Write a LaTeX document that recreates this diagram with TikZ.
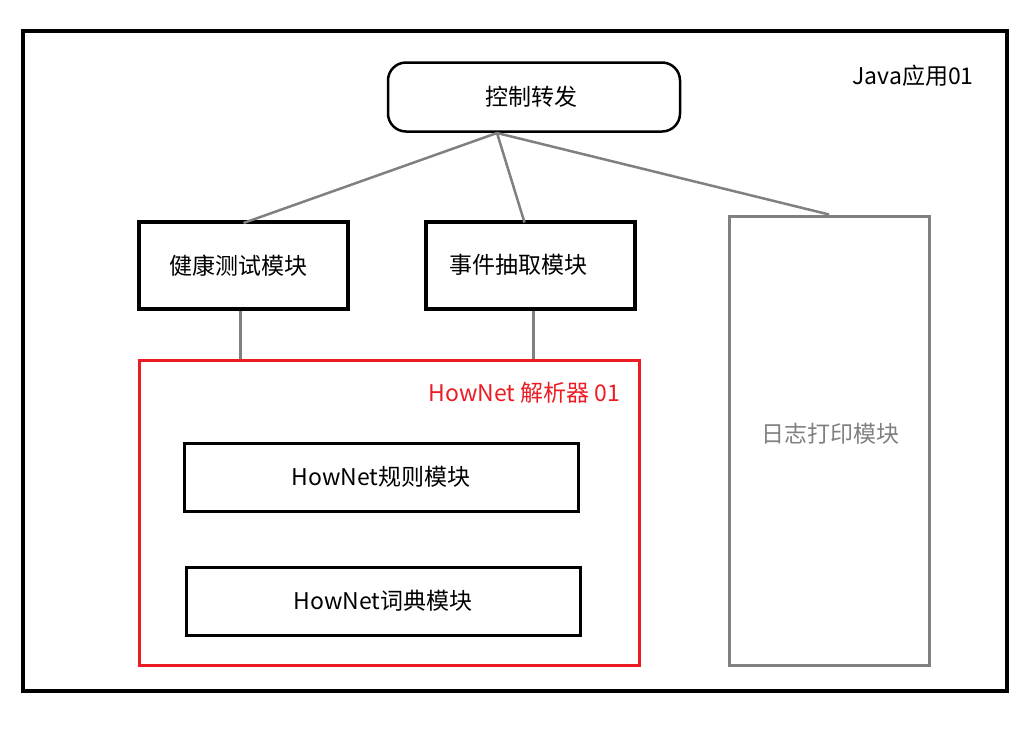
\documentclass[tikz,border=0pt]{standalone}
\usepackage{fontspec}
\setmainfont{Noto Sans CJK SC}
\usetikzlibrary{positioning}
\tikzset{
  box/.style={draw, line width=4pt, minimum width=209pt, minimum height=87pt, inner sep=0pt},
  subbox/.style={draw, line width=3pt, minimum width=394pt, minimum height=68pt, inner sep=0pt},
  link/.style={draw=gray, line width=2.5pt},
}
\definecolor{hnred}{RGB}{237,28,36}
\begin{document}
\begin{tikzpicture}[x=1pt, y=-1pt, font=\fontsize{23}{27}\selectfont]
		\useasboundingbox (0,0) rectangle (1036,729);
		% Outer frame
		\draw[line width=4pt] (23,31) rectangle (1007,691);
		\node (java) at (913,76) {Java应用01};
		
		% Top node
		\node[draw, line width=2.5pt, rounded corners=18pt, minimum width=292pt, minimum height=69pt] (ctrl) at (534,97) {\hspace*{-6pt}控制转发};
		\coordinate (hub) at (497,133);
		
		% Module boxes
		\node[box] (health) at (243.5,265.5) {\hspace*{-10pt}健康测试模块};
		\node[box] (event) at (530.5,265) {\hspace*{-24pt}事件抽取模块};
		\node[draw=gray, line width=3pt, minimum width=200pt, minimum height=449pt] (log) at (829,440.5) {};
		\node[text=gray] (logname) at (830,434) {日志打印模块};
		
		% HowNet parser
		\node[draw=hnred, line width=3pt, minimum width=500pt, minimum height=305pt] (parser) at (389,512.5) {};
		\node[text=hnred, anchor=east] (parsername) at (624,393) {HowNet 解析器 01};
		\node[subbox] (rule) at (381,477) {HowNet规则模块};
		\node[subbox] (dict) at (383,601) {HowNet词典模块};
		
		% Connectors
		\draw[link] (hub) -- ([yshift=-3pt]health.north);
		\draw[link] (hub) -- ([xshift=-6pt, yshift=-3pt]event.north);
		\draw[link] (hub) -- (log.north);
		\draw[link] ([xshift=-3pt]health.south) -- ([xshift=-3pt]health.south |- parser.north);
		\draw[link] ([xshift=3pt]event.south) -- ([xshift=3pt]event.south |- parser.north);
	\end{tikzpicture}
\end{document}
